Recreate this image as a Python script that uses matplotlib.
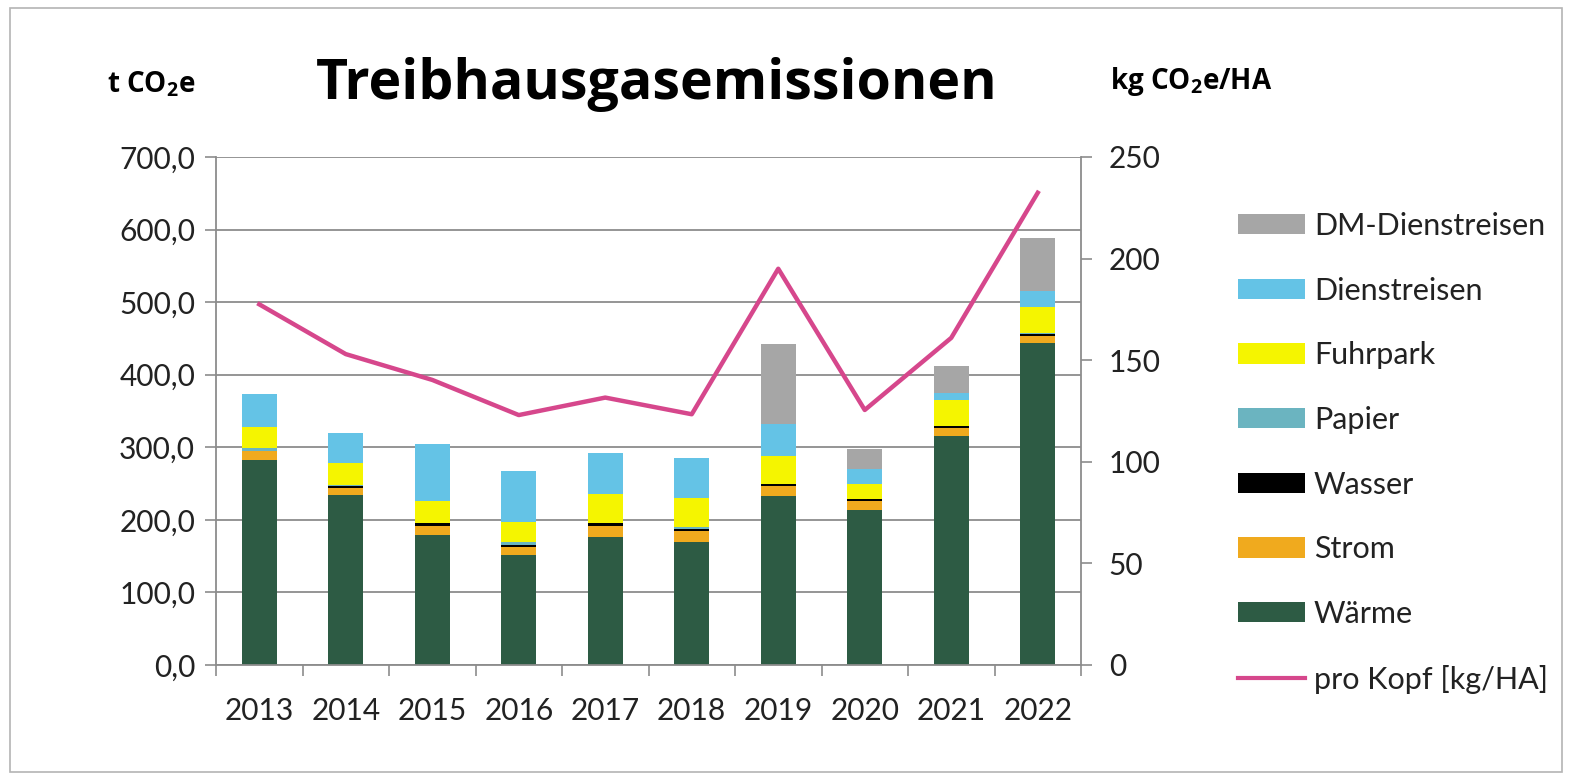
import matplotlib
matplotlib.use("Agg")
import numpy as np
from matplotlib import pyplot as plt
from matplotlib.patches import Patch, Rectangle
from matplotlib.lines import Line2D
from matplotlib.ticker import FuncFormatter, FixedLocator

# data (t CO2e)
years = ["2013", "2014", "2015", "2016", "2017", "2018", "2019", "2020", "2021", "2022"]
waerme = [283.0, 234.5, 179.3, 151.7, 177.0, 170.0, 232.2, 212.9, 315.0, 443.7]
strom = [12.0, 9.7, 12.9, 11.5, 15.2, 14.3, 14.3, 12.9, 11.5, 9.7]
wasser = [0.3, 3.0, 2.8, 2.5, 2.8, 2.8, 3.0, 2.8, 3.0, 3.0]
papier = [4.0, 0.5, 0.5, 3.2, 0.5, 3.7, 0.5, 0.5, 0.5, 0.5]
fuhrpark = [28.0, 30.0, 30.3, 27.6, 39.5, 39.0, 37.7, 19.8, 35.4, 35.9]
dienstreisen = [46.0, 42.0, 78.2, 71.3, 57.5, 55.2, 43.7, 20.7, 9.7, 23.0]
dm_dienstreisen = [0.0, 0.0, 0.0, 0.0, 0.0, 0.0, 110.3, 27.6, 36.3, 72.2]
# kg CO2e per head (right axis)
pro_kopf = [177.5, 153.0, 140.3, 123.0, 131.6, 123.4, 195.0, 125.5, 161.0, 232.4]

series = [
    ("Wärme", waerme, "#2d5b44"),
    ("Strom", strom, "#f0aa1e"),
    ("Wasser", wasser, "#000000"),
    ("Papier", papier, "#6bb4c0"),
    ("Fuhrpark", fuhrpark, "#f5f500"),
    ("Dienstreisen", dienstreisen, "#64c3e6"),
    ("DM-Dienstreisen", dm_dienstreisen, "#a6a6a6"),
]
line_color = "#d6478c"
grid_color = "#8c8c8c"
text_color = "#222222"
font = ["Lato", "DejaVu Sans"]
bold_font = ["Open Sans", "DejaVu Sans"]

plt.rcParams["font.family"] = font
plt.rcParams["mathtext.fontset"] = "custom"
plt.rcParams["mathtext.rm"] = "Open Sans:bold"
plt.rcParams["mathtext.bf"] = "Open Sans:bold"

fig = plt.figure(figsize=(15.75, 7.78), dpi=100)
fig.patches.append(Rectangle((10 / 1575, 1 - 772 / 778), 1552 / 1575, 764 / 778,
                             transform=fig.transFigure, fill=False,
                             edgecolor="#b4b4b4", linewidth=1.2))

ax = fig.add_axes([216 / 1575, 1 - 665 / 778, 865 / 1575, 508 / 778])
x = np.arange(len(years))
bottom = np.zeros(len(years))
for name, vals, color in series:
    ax.bar(x, vals, width=0.4, bottom=bottom, color=color, linewidth=0, zorder=2)
    bottom += np.array(vals)

ax.set_xlim(-0.5, len(years) - 0.5)
ax.set_ylim(0, 700)
ax.set_yticks(np.arange(0, 701, 100))
ax.yaxis.set_major_formatter(FuncFormatter(lambda v, p: f"{v:.1f}".replace(".", ",")))
ax.grid(axis="y", color=grid_color, linewidth=1.3, zorder=0)
ax.set_axisbelow(True)

ax.xaxis.set_major_locator(FixedLocator(np.arange(-0.5, len(years), 1.0)))
ax.xaxis.set_major_formatter(FuncFormatter(lambda v, p: ""))
ax.xaxis.set_minor_locator(FixedLocator(x))
ax.set_xticklabels(years, minor=True)
ax.tick_params(axis="x", which="major", length=8, color=grid_color, width=1.2)
ax.tick_params(axis="x", which="minor", length=0, pad=23, labelsize=21.5, labelcolor=text_color)
ax.tick_params(axis="y", length=8, color=grid_color, width=1.2, pad=7, labelsize=21.5,
               labelcolor=text_color)

for side in ["top", "right"]:
    ax.spines[side].set_visible(False)
for side in ["left", "bottom"]:
    ax.spines[side].set_color(grid_color)
    ax.spines[side].set_linewidth(1.3)

ax2 = ax.twinx()
ax2.plot(x, pro_kopf, color=line_color, linewidth=3.2, zorder=5)
ax2.set_ylim(0, 250)
ax2.set_yticks(np.arange(0, 251, 50))
ax2.tick_params(axis="y", length=8, color=grid_color, width=1.2, pad=12, labelsize=21.5,
                labelcolor=text_color)
for side in ["top", "left", "bottom"]:
    ax2.spines[side].set_visible(False)
ax2.spines["right"].set_color(grid_color)
ax2.spines["right"].set_linewidth(1.3)

fig.text(657 / 1575, 1 - 84 / 778, "Treibhausgasemissionen", ha="center", va="center",
         fontsize=40, fontweight="bold", family=bold_font)
fig.text(107 / 1575, 1 - 84 / 778, r"t CO$_2$e", ha="left", va="center",
         fontsize=20, fontweight="bold", family=bold_font)
fig.text(1110 / 1575, 1 - 82 / 778, r"kg CO$_2$e/HA", ha="left", va="center",
         fontsize=20, fontweight="bold", family=bold_font)

handles = [Patch(facecolor=c, edgecolor="none", label=n) for n, v, c in series[::-1]]
handles.append(Line2D([0], [0], color=line_color, linewidth=3, label="pro Kopf [kg/HA]"))
fig.legend(handles=handles, loc="upper left", bbox_to_anchor=(1238 / 1575, 1 - 212 / 778),
           frameon=False, fontsize=22, handlelength=2.2, handleheight=0.65,
           handletextpad=0.28, labelspacing=1.2, borderpad=0, borderaxespad=0,
           labelcolor=text_color)

fig.savefig("out.png", dpi=100, facecolor="white")
